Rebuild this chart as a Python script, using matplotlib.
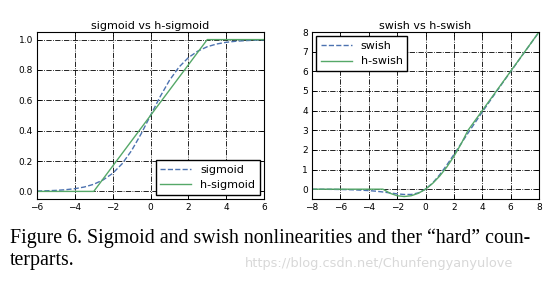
import matplotlib
matplotlib.use('Agg')
import matplotlib.pyplot as plt

sig_x = [-6, -5.5, -5, -4.5, -4, -3.5, -3, -2.5, -2, -1.5, -1, -0.5, 0,
         0.5, 1, 1.5, 2, 2.5, 3, 3.5, 4, 4.5, 5, 5.5, 6]
sigmoid = [0.0025, 0.0041, 0.0067, 0.011, 0.018, 0.029, 0.047, 0.076, 0.119, 0.182,
           0.269, 0.378, 0.5, 0.622, 0.731, 0.818, 0.881, 0.924, 0.953, 0.971,
           0.982, 0.989, 0.993, 0.996, 0.998]
hsig_x = [-6, -3, 3, 6]
h_sigmoid = [0.0, 0.0, 1.0, 1.0]

sw_x = [-8, -7, -6, -5, -4, -3.5, -3, -2.5, -2, -1.5, -1, -0.5, 0,
        0.5, 1, 1.5, 2, 2.5, 3, 4, 5, 6, 7, 8]
swish = [-0.003, -0.006, -0.015, -0.033, -0.072, -0.103, -0.142, -0.19, -0.238, -0.27,
         -0.269, -0.189, 0.0, 0.311, 0.731, 1.227, 1.762, 2.31, 2.858, 3.928,
         4.967, 5.985, 6.994, 7.997]
hsw_x = [-8, -3, -2.5, -2, -1.5, -1, -0.5, 0, 0.5, 1, 1.5, 2, 2.5, 3, 8]
h_swish = [0.0, 0.0, -0.208, -0.333, -0.375, -0.333, -0.208, 0.0, 0.292, 0.667,
           1.125, 1.667, 2.292, 3.0, 8.0]

blue = '#4c72b0'
green = '#55a868'

fig = plt.figure(figsize=(5.56, 2.9), dpi=100)
ax1 = fig.add_axes([37/556, 1 - 199/290, 227/556, 167/290])
ax2 = fig.add_axes([312/556, 1 - 199/290, 227/556, 167/290])

for ax in (ax1, ax2):
    ax.grid(True, color='black', linestyle='-.', linewidth=0.6)
    ax.set_axisbelow(True)
    ax.tick_params(direction='in', labelsize=6.5, length=3, width=0.6, pad=3,
                   top=True, right=True)
    for s in ax.spines.values():
        s.set_linewidth(0.8)

ax1.plot(sig_x, sigmoid, '--', color=blue, lw=1, label='sigmoid')
ax1.plot(hsig_x, h_sigmoid, '-', color=green, lw=1, label='h-sigmoid')
ax1.set_xlim(-6, 6)
ax1.set_ylim(-0.05, 1.05)
ax1.set_xticks([-6, -4, -2, 0, 2, 4, 6])
ax1.set_yticks([0.0, 0.2, 0.4, 0.6, 0.8, 1.0])
ax1.set_title('sigmoid vs h-sigmoid', fontsize=8, pad=2)
ax1.legend(loc='lower right', fontsize=8, fancybox=False, edgecolor='black',
           framealpha=1, handlelength=2.8, borderaxespad=0.4)

ax2.plot(sw_x, swish, '--', color=blue, lw=1, label='swish')
ax2.plot(hsw_x, h_swish, '-', color=green, lw=1, label='h-swish')
ax2.set_xlim(-8, 8)
ax2.set_ylim(-0.5, 8)
ax2.set_xticks([-8, -6, -4, -2, 0, 2, 4, 6, 8])
ax2.set_yticks(range(0, 9))
ax2.set_title('swish vs h-swish', fontsize=8, pad=2)
ax2.legend(loc='upper left', fontsize=8, fancybox=False, edgecolor='black',
           framealpha=1, handlelength=2.8, borderaxespad=0.4)

fig.text(10/556, 1 - 238/290, 'Figure 6. Sigmoid and swish nonlinearities and ther \u201chard\u201d coun-',
         family='Liberation Serif', fontsize=14.3, va='center')
fig.text(10/556, 1 - 261/290, 'terparts.', family='Liberation Serif', fontsize=14.3, va='center')
fig.text(245/556, 1 - 263/290, 'https://blog.csdn.net/Chunfengyanyulove',
         fontsize=9.3, color='#d8d8d8', va='center')

fig.savefig('out.png', dpi=100)
